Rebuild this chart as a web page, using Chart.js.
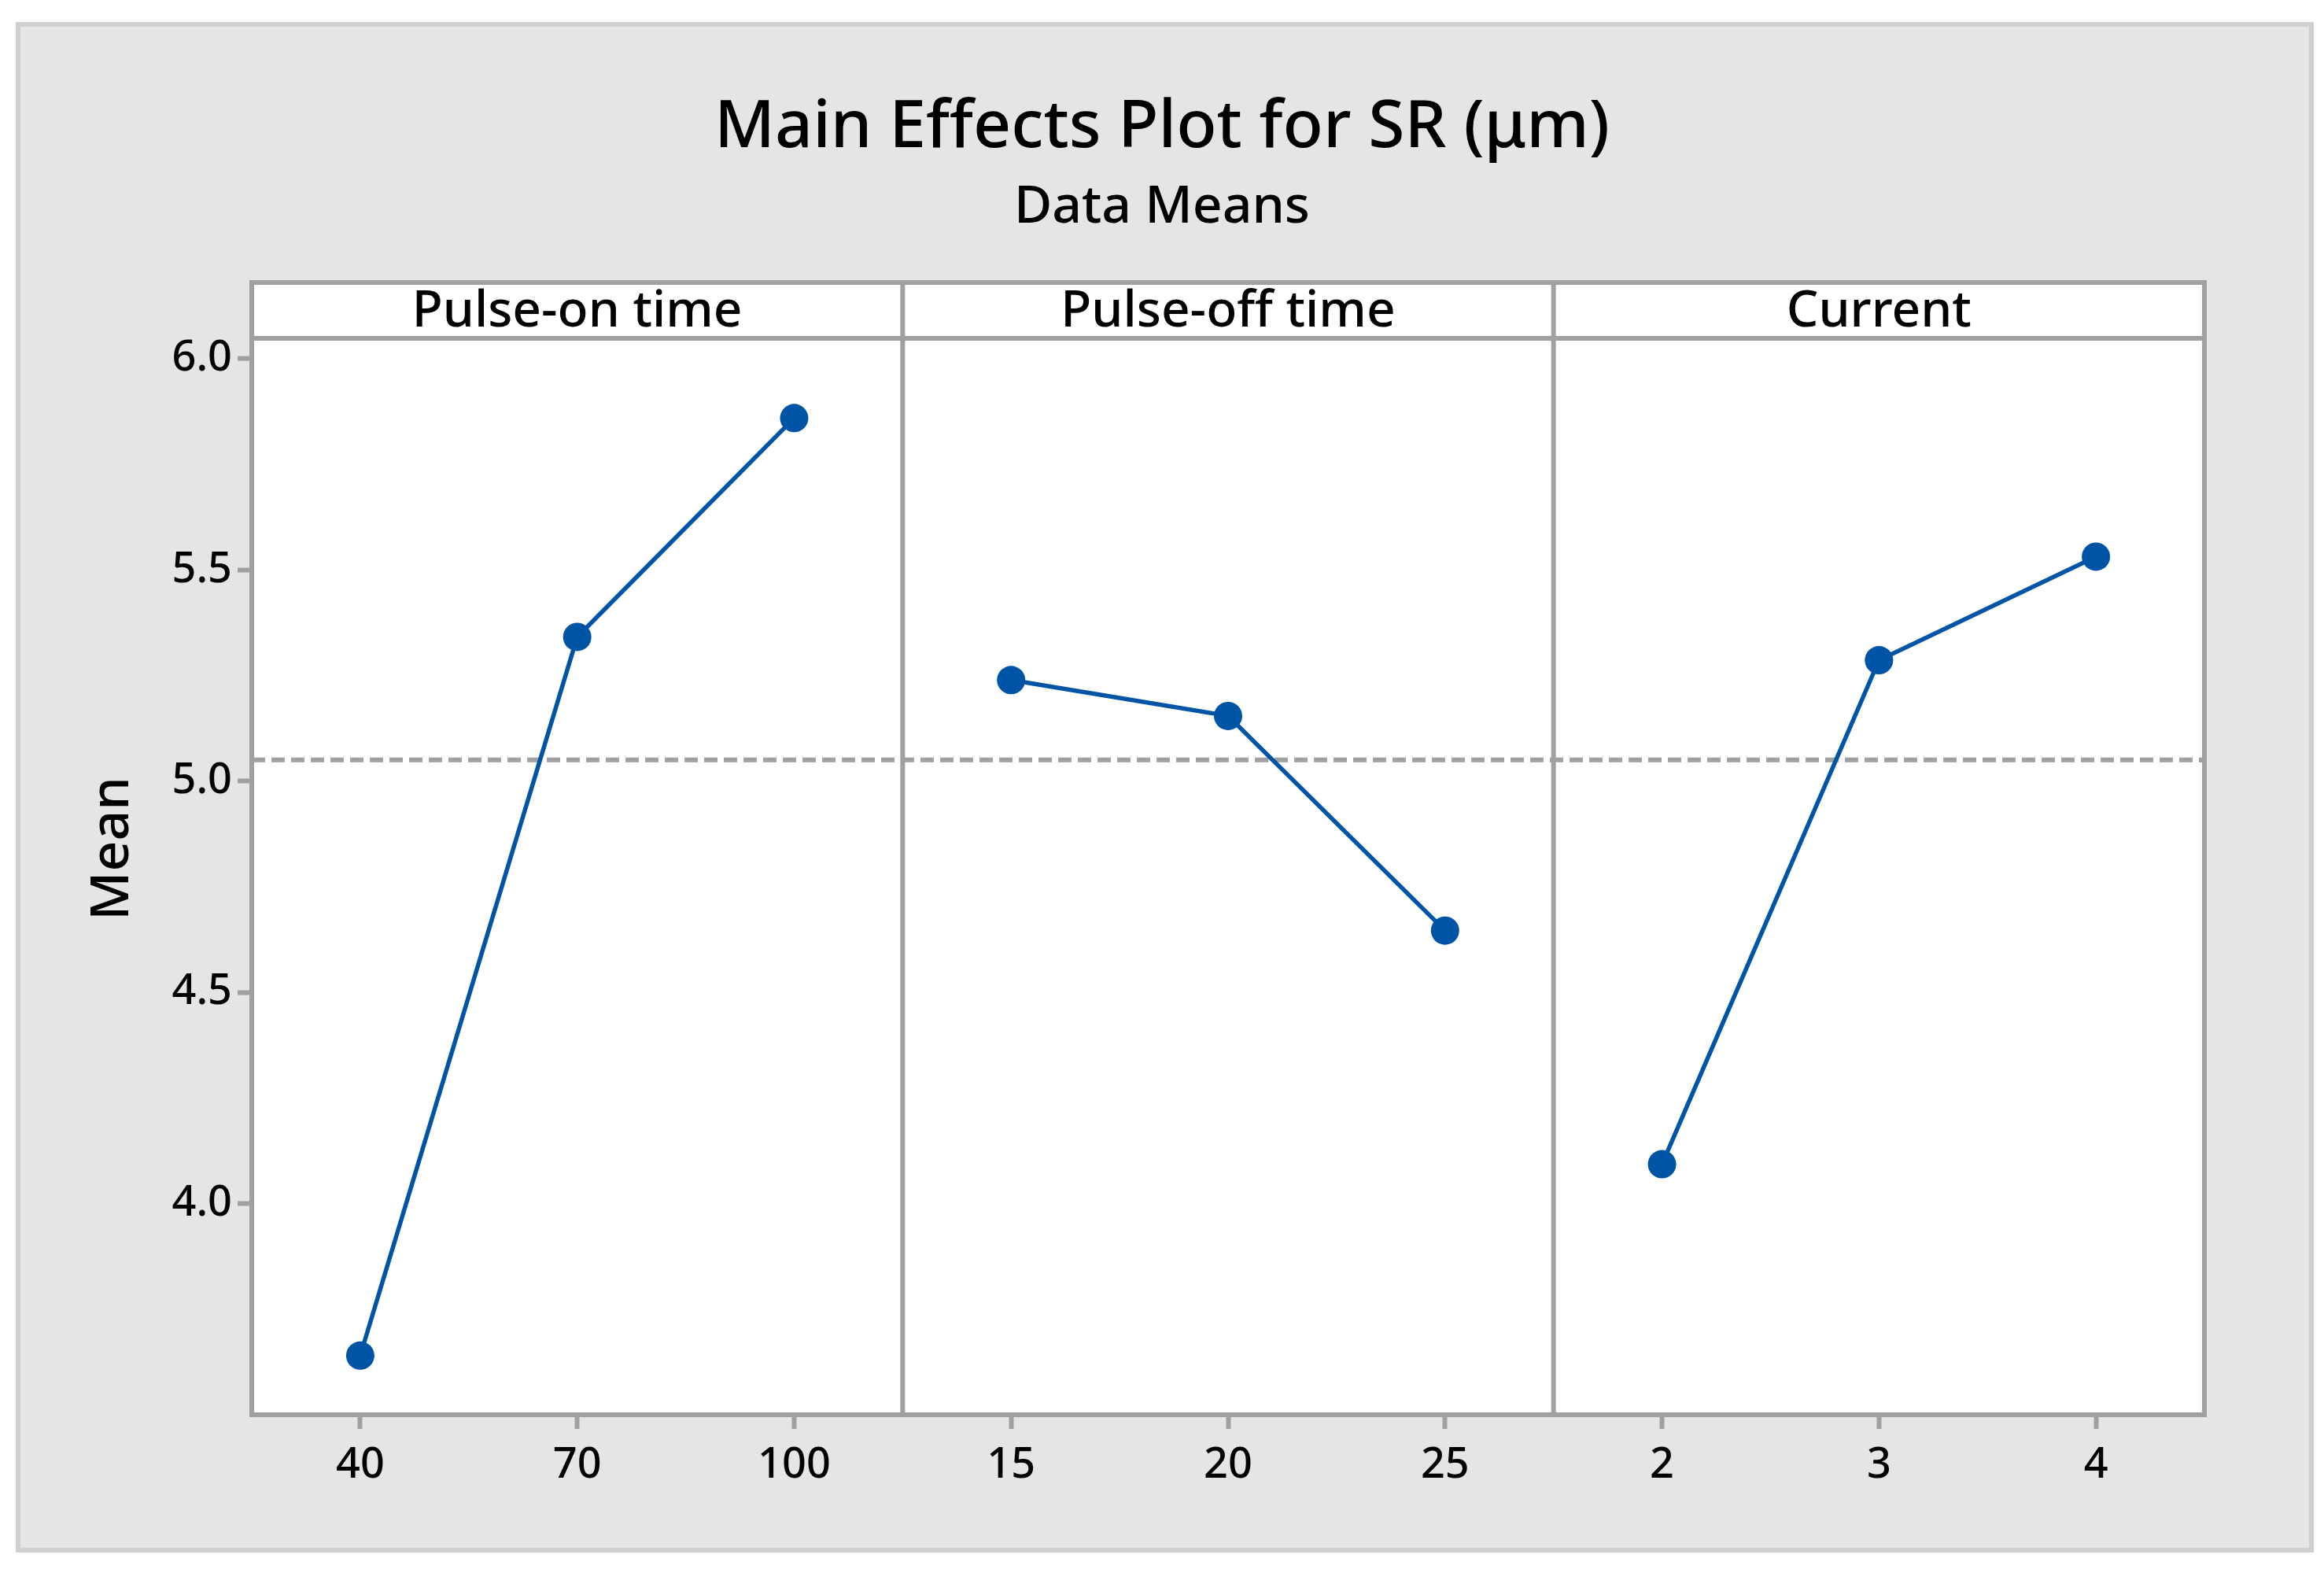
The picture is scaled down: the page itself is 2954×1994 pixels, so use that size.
<!DOCTYPE html>
<html>
<head>
<meta charset="utf-8">
<script src="https://cdn.jsdelivr.net/npm/chart.js@4.4.1/dist/chart.umd.min.js"></script>
<style>
  html, body { margin: 0; padding: 0; background: #ffffff; }
  canvas { display: block; }
</style>
</head>
<body>
<canvas id="c" width="2954" height="1994" style="width:2954px;height:1994px"></canvas>
<script>
// ---- data ----
const factorNames = ['Pulse-on time', 'Pulse-off time', 'Current'];
const pulseOnLevels = ['40', '70', '100'];
const pulseOffLevels = ['15', '20', '25'];
const currentLevels = ['2', '3', '4'];
const pulseOnMeans = [3.640, 5.341, 5.859];
const pulseOffMeans = [5.239, 5.154, 4.646];
const currentMeans = [4.093, 5.286, 5.531];
const grandMean = 5.05;
const yTickValues = [4.0, 4.5, 5.0, 5.5, 6.0];
const chartTitle = 'Main Effects Plot for SR (μm)';
const chartSubtitle = 'Data Means';
const yTitle = 'Mean';

// ---- styles ----
const BLUE = '#0054a6';
const GRAY = '#a0a0a0';
const FONT = "'Noto Sans', 'Open Sans', sans-serif";
Chart.defaults.font.family = FONT;
Chart.defaults.color = '#000000';

const levelSets = [pulseOnLevels, pulseOffLevels, currentLevels];
const meanSets = [pulseOnMeans, pulseOffMeans, currentMeans];
const xIds = ['x1', 'x2', 'x3'];

const datasets = meanSets.map((means, k) => ({
  label: factorNames[k],
  data: means.map((v, i) => ({ x: i, y: v })),
  xAxisID: xIds[k],
  yAxisID: 'y',
  borderColor: BLUE,
  backgroundColor: BLUE,
  borderWidth: 5.5,
  pointRadius: 18,
  pointBorderWidth: 0,
  pointBackgroundColor: BLUE,
  tension: 0,
  clip: false
}));

function xAxis(k) {
  return {
    type: 'linear',
    position: 'bottom',
    stack: 'panels',
    stackWeight: 1,
    min: -0.5,
    max: 2.5,
    afterBuildTicks(s) { s.ticks = levelSets[k].map((_, i) => ({ value: i })); },
    afterFit(s) { s.height = 100; },
    ticks: {
      font: { size: 54, weight: '500' },
      color: '#000',
      padding: 14,
      maxRotation: 0,
      autoSkip: false,
      callback: (v) => levelSets[k][v]
    },
    grid: {
      display: true,
      drawOnChartArea: false,
      drawTicks: true,
      tickLength: 18,
      tickWidth: 6,
      tickColor: GRAY
    },
    border: { display: true, color: GRAY, width: 6 }
  };
}

const STRIP_H = 71;

const decor = {
  id: 'decor',
  beforeDraw(chart) {
    const { ctx, width, height, chartArea: a } = chart;
    ctx.save();
    ctx.fillStyle = '#ffffff';
    ctx.fillRect(0, 0, width, height);
    ctx.fillStyle = '#e5e5e5';
    ctx.fillRect(23, 31, 2915, 1939);
    ctx.strokeStyle = '#cfcfcf';
    ctx.lineWidth = 6;
    ctx.strokeRect(23, 31, 2915, 1939);
    ctx.fillStyle = '#ffffff';
    ctx.fillRect(a.left, a.top, a.right - a.left, a.bottom - a.top);
    ctx.restore();
  },
  beforeDatasetsDraw(chart) {
    const { ctx, chartArea: a, scales } = chart;
    ctx.save();
    // grand mean reference line
    const yRef = scales.y.getPixelForValue(grandMean);
    ctx.strokeStyle = GRAY;
    ctx.lineWidth = 6;
    ctx.setLineDash([17, 8]);
    ctx.beginPath();
    ctx.moveTo(a.left, yRef);
    ctx.lineTo(a.right, yRef);
    ctx.stroke();
    ctx.setLineDash([]);
    // panel frame, dividers, strip
    ctx.beginPath();
    ctx.moveTo(a.left - 3, a.top); ctx.lineTo(a.right + 3, a.top);
    ctx.moveTo(a.left, a.top + STRIP_H); ctx.lineTo(a.right, a.top + STRIP_H);
    ctx.moveTo(a.right, a.top); ctx.lineTo(a.right, a.bottom + 3);
    ['x2', 'x3'].forEach(id => {
      const x = scales[id].left;
      ctx.moveTo(x, a.top); ctx.lineTo(x, a.bottom);
    });
    ctx.stroke();
    // strip labels
    ctx.fillStyle = '#000';
    ctx.font = '500 64px ' + FONT;
    ctx.textAlign = 'center';
    ctx.textBaseline = 'alphabetic';
    xIds.forEach((id, k) => {
      const s = scales[id];
      ctx.fillText(factorNames[k], (s.left + s.right) / 2, a.top + 56);
    });
    ctx.restore();
  }
};

new Chart(document.getElementById('c'), {
  type: 'line',
  data: { datasets },
  plugins: [decor],
  options: {
    responsive: false,
    animation: false,
    devicePixelRatio: 1,
    layout: { padding: { top: 30, left: 60, right: 60, bottom: 96 } },
    plugins: {
      legend: { display: false },
      tooltip: { enabled: false },
      title: {
        display: true,
        text: chartTitle,
        color: '#000',
        font: { size: 84, weight: '500' },
        padding: { top: 83, bottom: 0 }
      },
      subtitle: {
        display: true,
        text: chartSubtitle,
        color: '#000',
        font: { size: 66, weight: '500' },
        padding: { top: 11, bottom: 55 }
      }
    },
    scales: {
      x1: xAxis(0),
      x2: xAxis(1),
      x3: xAxis(2),
      y: {
        type: 'linear',
        position: 'left',
        min: 3.5,
        max: 6.18,
        afterBuildTicks(s) { s.ticks = yTickValues.map(v => ({ value: v })); },
        afterFit(s) { s.width = 260; },
        ticks: {
          font: { size: 54, weight: '500' },
          color: '#000',
          padding: 7,
          callback: (v) => Number(v).toFixed(1)
        },
        grid: {
          display: true,
          drawOnChartArea: false,
          drawTicks: true,
          tickLength: 18,
          tickWidth: 6,
          tickColor: GRAY
        },
        border: { display: true, color: GRAY, width: 6 },
        title: {
          display: true,
          text: yTitle,
          color: '#000',
          font: { size: 68, weight: '500' },
          padding: { top: 43, bottom: 0 }
        }
      },
      ySpacer: {
        type: 'linear',
        position: 'right',
        display: true,
        afterFit(s) { s.width = 92; },
        ticks: { display: false },
        grid: { display: false, drawTicks: false },
        border: { display: false }
      }
    }
  }
});
</script>
</body>
</html>
